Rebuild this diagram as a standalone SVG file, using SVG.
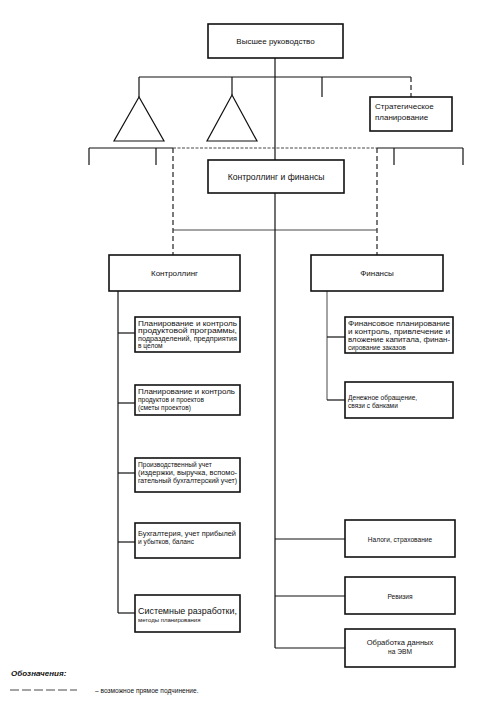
<svg xmlns="http://www.w3.org/2000/svg" width="489" height="710" viewBox="0 0 489 710">
<style>
.box{fill:#fff;stroke:#111;stroke-width:1.6}
.ln{fill:none;stroke:#111;stroke-width:1.2}
.dash{fill:none;stroke:#222;stroke-width:1.2;stroke-dasharray:5,3}
.thin{fill:none;stroke:#333;stroke-width:0.9}
text{font-family:"Liberation Sans",Arial,sans-serif;fill:#111}
.t8{font-size:8px}
.t7{font-size:6.6px}
.c{text-anchor:middle}
</style>
<rect width="489" height="710" fill="#fff"/>
<g id="connectors">
<line class="ln" x1="275" y1="58" x2="275" y2="160"/>
<line class="ln" x1="139" y1="77" x2="411" y2="77"/>
<line class="ln" x1="139" y1="77" x2="139" y2="97"/>
<line class="ln" x1="232" y1="77" x2="232" y2="95"/>
<line class="ln" x1="322" y1="77" x2="322" y2="97"/>
<line class="dash" x1="411" y1="77" x2="411" y2="97"/>
<line class="ln" x1="89" y1="148" x2="173" y2="148"/>
<line class="thin" x1="173" y1="148" x2="377" y2="148" stroke-dasharray="3,1.5"/>
<line class="ln" x1="377" y1="148" x2="463" y2="148"/>
<line class="ln" x1="89" y1="148" x2="89" y2="165"/>
<line class="ln" x1="156" y1="148" x2="156" y2="165"/>
<line class="ln" x1="394" y1="148" x2="394" y2="165"/>
<line class="ln" x1="463" y1="148" x2="463" y2="165"/>
<line class="dash" x1="173" y1="148" x2="173" y2="255"/>
<line class="dash" x1="377" y1="148" x2="377" y2="255" stroke-width="0.8"/>
<line class="thin" x1="173" y1="230" x2="377" y2="230"/>
<line class="ln" x1="275" y1="193" x2="275" y2="648"/>
<line class="ln" x1="118" y1="291" x2="118" y2="613"/>
<line class="ln" x1="118" y1="333" x2="135" y2="333"/>
<line class="ln" x1="118" y1="403" x2="135" y2="403"/>
<line class="ln" x1="118" y1="473" x2="135" y2="473"/>
<line class="ln" x1="118" y1="542" x2="135" y2="542"/>
<line class="ln" x1="118" y1="613" x2="135" y2="613"/>
<line class="thin" x1="327" y1="291" x2="327" y2="400"/>
<line class="ln" x1="327" y1="337" x2="345" y2="337"/>
<line class="ln" x1="327" y1="400" x2="345" y2="400"/>
<line class="ln" x1="275" y1="539" x2="345" y2="539"/>
<line class="ln" x1="275" y1="596" x2="345" y2="596"/>
<line class="ln" x1="275" y1="648" x2="345" y2="648"/>
</g>
<g id="top">
<rect class="box" x="208" y="24" width="135" height="34"/>
<text class="t8 c" x="275.5" y="44">Высшее руководство</text>
</g>
<g id="tri1"><polygon class="ln" points="139,97 114,141 164,141"/></g>
<g id="tri2"><polygon class="ln" points="232,95 207,141 257,141"/></g>
<g id="strategic">
<rect class="box" x="370" y="97" width="82" height="34"/>
<text class="t8" x="375" y="109">Стратегическое</text>
<text class="t8" x="375" y="120">планирование</text>
</g>
<g id="cf">
<rect class="box" x="208" y="160" width="136" height="33"/>
<text class="c" x="276" y="180" font-size="8.6">Контроллинг и финансы</text>
</g>
<g id="controlling">
<rect class="box" x="109" y="255" width="131" height="36"/>
<text class="t8 c" x="174.5" y="276">Контроллинг</text>
</g>
<g id="finance">
<rect class="box" x="311" y="255" width="132" height="36"/>
<text class="t8 c" x="377" y="276">Финансы</text>
</g>
<g id="c1">
<rect class="box" x="135" y="317" width="105" height="35"/>
<text class="t7" x="138" y="325.5" textLength="99" lengthAdjust="spacingAndGlyphs">Планирование и контроль</text>
<text class="t7" x="138" y="333" textLength="99" lengthAdjust="spacingAndGlyphs">продуктовой программы,</text>
<text class="t7" x="138" y="340.5" textLength="99" lengthAdjust="spacingAndGlyphs">подразделений, предприятия</text>
<text class="t7" x="138" y="348">в целом</text>
</g>
<g id="c2">
<rect class="box" x="135" y="385" width="105" height="30"/>
<text class="t7" x="138" y="394" font-size="7.3" textLength="97" lengthAdjust="spacingAndGlyphs">Планирование и контроль</text>
<text class="t7" x="138" y="401.5">продуктов и проектов</text>
<text class="t7" x="138" y="409.5">(сметы проектов)</text>
</g>
<g id="c3">
<rect class="box" x="135" y="458" width="105" height="34"/>
<text class="t7" x="138" y="467" font-size="7.3">Производственный учет</text>
<text class="t7" x="138" y="475" textLength="99" lengthAdjust="spacingAndGlyphs">(издержки, выручка, вспомо-</text>
<text class="t7" x="138" y="483" textLength="99" lengthAdjust="spacingAndGlyphs">гательный бухгалтерский учет)</text>
</g>
<g id="c4">
<rect class="box" x="135" y="523" width="105" height="35"/>
<text class="t7" x="138" y="536" textLength="98" lengthAdjust="spacingAndGlyphs">Бухгалтерия, учет прибылей</text>
<text class="t7" x="138" y="544">и убытков, баланс</text>
</g>
<g id="c5">
<rect class="box" x="135" y="595" width="105" height="37"/>
<text x="138" y="614" font-size="9" textLength="99" lengthAdjust="spacingAndGlyphs">Системные разработки,</text>
<text x="138" y="622" font-size="6">методы планирования</text>
</g>
<g id="f1">
<rect class="box" x="345" y="317" width="108" height="36"/>
<text class="t7" x="348" y="326" textLength="102" lengthAdjust="spacingAndGlyphs">Финансовое планирование</text>
<text class="t7" x="348" y="334" textLength="102" lengthAdjust="spacingAndGlyphs">и контроль, привлечение и</text>
<text class="t7" x="348" y="342" textLength="102" lengthAdjust="spacingAndGlyphs">вложение капитала, финан-</text>
<text class="t7" x="348" y="350">сирование заказов</text>
</g>
<g id="f2">
<rect class="box" x="345" y="382" width="108" height="36"/>
<text class="t7" x="348" y="400" font-size="7.2">Денежное обращение,</text>
<text class="t7" x="348" y="408" font-size="7.2">связи с банками</text>
</g>
<g id="taxes">
<rect class="box" x="345" y="520" width="110" height="37"/>
<text class="t7 c" x="400" y="541.5" font-size="7.2">Налоги, страхование</text>
</g>
<g id="audit">
<rect class="box" x="345" y="577" width="110" height="37"/>
<text class="t7 c" x="400" y="598.5">Ревизия</text>
</g>
<g id="edp">
<rect class="box" x="345" y="629" width="110" height="38"/>
<text class="c" x="400" y="645" font-size="7.6">Обработка данных</text>
<text class="t7 c" x="400" y="654">на ЭВМ</text>
</g>
<g id="legend">
<text x="11" y="676" font-size="8" font-style="italic" font-weight="bold">Обозначения:</text>
<line class="thin" x1="10" y1="690" x2="77" y2="690" stroke-dasharray="9,3"/>
<text x="95" y="693" font-size="6.6">– возможное прямое подчинение.</text>
</g>
</svg>
